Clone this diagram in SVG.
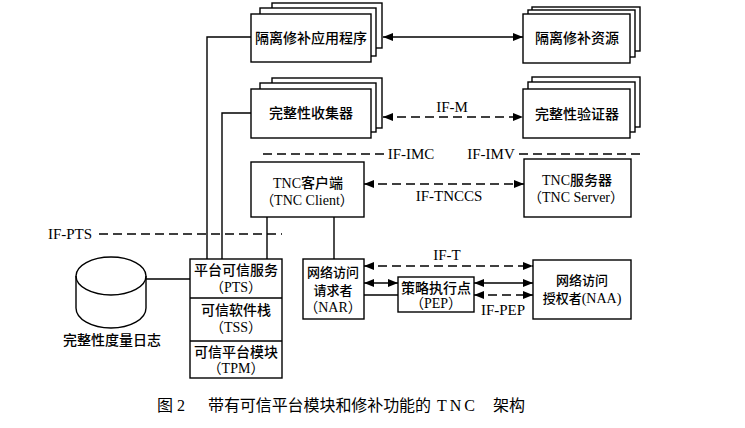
<svg xmlns="http://www.w3.org/2000/svg" width="745" height="428" viewBox="0 0 745 428">
<defs>
<marker id="ah" markerUnits="userSpaceOnUse" markerWidth="11" markerHeight="9" refX="10" refY="4" orient="auto-start-reverse"><path d="M0,0 L10,4 L0,8 z" fill="#000"/></marker>
</defs>
<style>
.bx, ellipse, path.shape { fill: #fff; stroke: #000; stroke-width: 1.4; }
.ln { fill: none; stroke: #000; stroke-width: 1.4; }
.da { fill: none; stroke: #000; stroke-width: 1.6; stroke-dasharray: 9 5; }
text { font-family: "Liberation Serif", "Noto Sans CJK SC", serif; font-size: 14px; fill: #000; text-anchor: middle; }
.cjk { font-family: "Noto Sans CJK SC", "Liberation Serif", sans-serif; font-weight: 500; }
.lbl { font-size: 15px; }
.sm { font-size: 13px; }
.cap { font-family: "Liberation Serif", "Noto Sans CJK SC", serif; font-size: 16px; text-anchor: start; }
</style>
<rect x="0" y="0" width="745" height="428" fill="#fff"/>

<g id="connectors">
<line class="ln" x1="383" y1="37" x2="523" y2="37" marker-start="url(#ah)" marker-end="url(#ah)"/>
<line class="da" x1="383" y1="117" x2="523" y2="117" marker-start="url(#ah)" marker-end="url(#ah)"/>
<text class="lbl" x="452" y="112">IF-M</text>
<line class="da" x1="263" y1="154" x2="384" y2="154"/>
<text class="lbl" x="411" y="159">IF-IMC</text>
<text class="lbl" x="491" y="159">IF-IMV</text>
<line class="da" x1="519" y1="154" x2="640" y2="154"/>
<line class="da" x1="364" y1="184" x2="524" y2="184" marker-start="url(#ah)" marker-end="url(#ah)"/>
<text class="lbl" x="449" y="201">IF-TNCCS</text>
<polyline class="ln" points="207,259 207,37 251,37"/>
<polyline class="ln" points="222,259 222,113 251,113"/>
<line class="ln" x1="267" y1="217" x2="267" y2="259"/>
<line class="ln" x1="334" y1="217" x2="334" y2="259"/>
<text class="lbl" x="70" y="239">IF-PTS</text>
<line class="da" x1="99" y1="234" x2="282" y2="234"/>
<line class="ln" x1="146" y1="279" x2="190" y2="279"/>
<line class="da" x1="364" y1="266" x2="533" y2="266" marker-start="url(#ah)" marker-end="url(#ah)"/>
<text class="lbl" x="447" y="260">IF-T</text>
<line class="ln" x1="364" y1="283" x2="398" y2="283" marker-start="url(#ah)" marker-end="url(#ah)"/>
<line class="ln" x1="364" y1="295" x2="398" y2="295"/>
<line class="ln" x1="474" y1="283" x2="533" y2="283" marker-start="url(#ah)" marker-end="url(#ah)"/>
<line class="da" x1="474" y1="295" x2="533" y2="295" marker-start="url(#ah)" marker-end="url(#ah)"/>
<text class="lbl" x="503" y="315">IF-PEP</text>
</g>

<g id="app">
<rect class="bx" x="272" y="3" width="110" height="45"/>
<rect class="bx" x="260" y="8" width="116" height="48"/>
<rect class="bx" x="251" y="14" width="120" height="48"/>
<text class="cjk" x="311" y="43">隔离修补应用程序</text>
</g>

<g id="res">
<rect class="bx" x="532" y="7" width="108" height="44"/>
<rect class="bx" x="528" y="10" width="107" height="47"/>
<rect class="bx" x="523" y="14" width="107" height="49"/>
<text class="cjk" x="577" y="43">隔离修补资源</text>
</g>

<g id="collector">
<rect class="bx" x="272" y="78" width="110" height="50"/>
<rect class="bx" x="260" y="83" width="116" height="49"/>
<rect class="bx" x="251" y="89" width="120" height="49"/>
<text class="cjk" x="311" y="118">完整性收集器</text>
</g>

<g id="verifier">
<rect class="bx" x="532" y="77" width="108" height="50"/>
<rect class="bx" x="528" y="82" width="107" height="50"/>
<rect class="bx" x="523" y="89" width="107" height="49"/>
<text class="cjk" x="577" y="119">完整性验证器</text>
</g>

<g id="tncclient">
<rect class="bx" x="251" y="162" width="113" height="55"/>
<text x="308" y="188">TNC<tspan class="cjk">客户端</tspan></text>
<text x="307" y="205">（TNC Client）</text>
</g>

<g id="tncserver">
<rect class="bx" x="524" y="159" width="107" height="58"/>
<text x="577" y="185">TNC<tspan class="cjk">服务器</tspan></text>
<text x="576" y="202">（TNC Server）</text>
</g>

<g id="pts">
<rect class="bx" x="190" y="259" width="92" height="119"/>
<line class="ln" x1="190" y1="298" x2="282" y2="298"/>
<line class="ln" x1="190" y1="341" x2="282" y2="341"/>
<text class="cjk" x="236" y="275">平台可信服务</text>
<text x="236" y="292">（PTS）</text>
<text class="cjk" x="236" y="315">可信软件栈</text>
<text x="236" y="332">（TSS）</text>
<text class="cjk" x="236" y="357">可信平台模块</text>
<text x="236" y="373">（TPM）</text>
</g>

<g id="log">
<path class="shape" d="M76,276 A35,19 0 0 1 146,276 L146,308 A35,20 0 0 1 76,308 Z"/>
<path class="ln" d="M76,276 A35,19 0 0 0 146,276"/>
<text class="cjk" x="112" y="345">完整性度量日志</text>
</g>

<g id="nar">
<rect class="bx" x="303" y="259" width="61" height="60"/>
<text class="cjk sm" x="333" y="277">网络访问</text>
<text class="cjk sm" x="333" y="295">请求者</text>
<text x="333" y="312">（NAR）</text>
</g>

<g id="pep">
<rect class="bx" x="398" y="277" width="76" height="35"/>
<text class="cjk" x="436" y="293">策略执行点</text>
<text x="436" y="308">（PEP）</text>
</g>

<g id="naa">
<rect class="bx" x="533" y="260" width="98" height="59"/>
<text class="cjk sm" x="582" y="285">网络访问</text>
<text x="582" y="303"><tspan class="cjk sm">授权者</tspan>(NAA)</text>
</g>

<g id="caption">
<text class="cap" x="157" y="411">图 2</text>
<text class="cap" x="208" y="411" textLength="223" lengthAdjust="spacing">带有可信平台模块和修补功能的</text>
<text class="cap" x="437" y="411" letter-spacing="3">TNC</text>
<text class="cap" x="493" y="411">架构</text>
</g>
</svg>
